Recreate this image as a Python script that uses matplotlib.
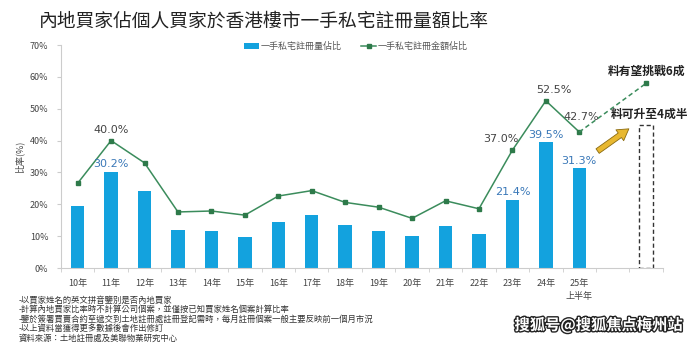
import matplotlib
matplotlib.use('Agg')
import matplotlib.pyplot as plt
import matplotlib.patheffects as pe
from matplotlib.patches import Rectangle, FancyArrowPatch

plt.rcParams['font.family'] = ['Noto Sans CJK TC', 'DejaVu Sans']

# 數據
years = ['10年', '11年', '12年', '13年', '14年', '15年', '16年', '17年',
         '18年', '19年', '20年', '21年', '22年', '23年', '24年', '25年\n上半年', '', '']
vol_share = [19.6, 30.2, 24.1, 12.0, 11.6, 9.6, 14.6, 16.6, 13.6, 11.6, 9.9, 13.3, 10.8, 21.4, 39.5, 31.3]
amt_share = [26.6, 40.0, 33.0, 17.6, 17.9, 16.6, 22.6, 24.3, 20.6, 19.1, 15.6, 21.1, 18.6, 37.0, 52.5, 42.7]
vol_labels = {1: '30.2%', 13: '21.4%', 14: '39.5%', 15: '31.3%'}
amt_labels = {1: '40.0%', 13: '37.0%', 14: '52.5%', 15: '42.7%'}
forecast_amt = 58.0
forecast_vol = 45.0
notes = [
    '-以買家姓名的英文拼音鑒別是否內地買家',
    '-計算內地買家比率時不計算公司個案，並僅按已知買家姓名個案計算比率',
    '-鑒於簽署買賣合約至遞交到土地註冊處註冊登記需時，每月註冊個案一般主要反映前一個月市況',
    '-以上資料當獲得更多數據後會作出修訂',
    '資料來源：土地註冊處及美聯物業研究中心',
]

bar_c = '#13a2de'
line_c = '#3b8c5c'
txt_c = '#444444'

fig = plt.figure(figsize=(7, 3.49), dpi=100)
ax = fig.add_axes([0.087, 0.232, 0.86, 0.639])

x = list(range(len(vol_share)))
bars = ax.bar(x, vol_share, width=0.4, color=bar_c, zorder=2, label='一手私宅註冊量佔比')
ln, = ax.plot(x, amt_share, color=line_c, lw=1.1, marker='s', ms=2.5, mfc='#2e7a4a', mec='#2e7a4a',
              zorder=3, label='一手私宅註冊金額佔比')

# 預測
ax.plot([15, 17], [amt_share[15], forecast_amt], color=line_c, lw=1.1, ls=(0, (3, 2)), zorder=3)
ax.plot([17], [forecast_amt], marker='s', ms=2.5, color='#2e7a4a', zorder=3)
ax.add_patch(Rectangle((17 - 0.21, 0), 0.42, forecast_vol, fill=False, ec='#333333',
                       lw=1.0, ls=(0, (3, 2)), zorder=2))
ax.add_patch(FancyArrowPatch((15.48, 36.2), (16.55, 44.2),
                             arrowstyle='simple,head_width=1.2,head_length=1.0,tail_width=0.5',
                             mutation_scale=8, fc='#e8b830', ec='#8a6a10', lw=0.6, zorder=4))
ax.text(17.0, 59.6, '料有望挑戰6成', ha='center', va='bottom', fontsize=8.5, fontweight='bold',
        color='#222222', clip_on=False)
ax.text(17.1, 46.2, '料可升至4成半', ha='center', va='bottom', fontsize=8.5, fontweight='bold',
        color='#222222', clip_on=False, zorder=5)

# 數值標籤
for i, s in vol_labels.items():
    ax.text(i, vol_share[i] + 0.8, s, ha='center', va='bottom', fontsize=8, color='#3a78b8',
            family=['DejaVu Sans'])
amt_dx = {1: 0.0, 13: -0.35, 14: 0.25, 15: 0.05}
amt_dy = {1: 1.8, 13: 1.8, 14: 1.8, 15: 3.2}
for i, s in amt_labels.items():
    ax.text(i + amt_dx[i], amt_share[i] + amt_dy[i], s, ha='center', va='bottom',
            fontsize=8, color=txt_c, family=['DejaVu Sans'])

ax.set_xlim(-0.5, 17.5)
ax.set_ylim(0, 70)
ax.set_yticks(range(0, 71, 10))
ax.set_yticklabels([f'{v}%' for v in range(0, 71, 10)], fontsize=6.5, color=txt_c)
ax.set_xticks(range(18))
ax.set_xticklabels(years, fontsize=6.5, color=txt_c, va='top', linespacing=1.6)
ax.tick_params(axis='x', length=0, pad=8)
ax.tick_params(axis='y', length=3, color='#cccccc', pad=6)
ax.set_xticks([i + 0.5 for i in range(-1, 18)], minor=True)
ax.tick_params(axis='x', which='minor', length=3, color='#cccccc')
for s in ['top', 'right']:
    ax.spines[s].set_visible(False)
for s in ['left', 'bottom']:
    ax.spines[s].set_color('#cccccc')
ax.set_ylabel('比率(%)', fontsize=6.5, color=txt_c, labelpad=4)

leg = ax.legend([bars, ln], ['一手私宅註冊量佔比', '一手私宅註冊金額佔比'],
                loc='upper center', bbox_to_anchor=(0.49, 1.05), ncol=2, frameon=False,
                fontsize=6.5, handlelength=1.6, columnspacing=2.2, handletextpad=0.2)
for t in leg.get_texts():
    t.set_color('#555555')

fig.text(0.055, 0.94, '內地買家佔個人買家於香港樓市一手私宅註冊量額比率', fontsize=13.5,
         color='#222222', ha='left', va='center')

for k, line in enumerate(notes):
    fig.text(0.026, 0.14 - k * 0.027, line, fontsize=6, color='#333333', ha='left', va='center')

fig.text(0.735, 0.068, '搜狐号@搜狐焦点梅州站', fontsize=11, fontweight='bold', color='white',
         family=['Noto Sans CJK SC', 'DejaVu Sans'], ha='left', va='center',
         path_effects=[pe.withStroke(linewidth=2, foreground='#222222')])

fig.savefig('out.png', dpi=100, facecolor='white')
